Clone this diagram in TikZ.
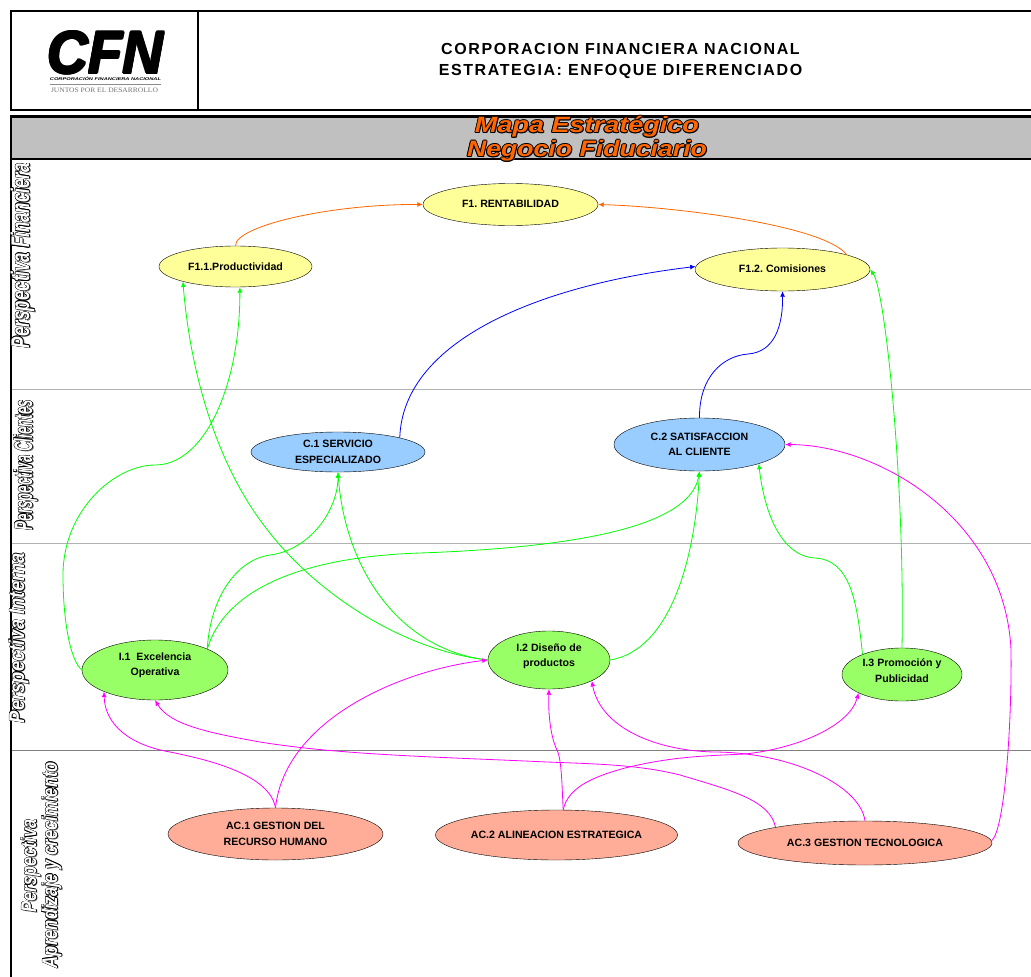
\documentclass[tikz,border=0pt]{standalone}
\usepackage{fontspec}
\usepackage{graphicx}
\setmainfont{Liberation Sans}
\newfontfamily\serifLogo{Liberation Serif}
\newfontfamily\headerFont[LetterSpace=10,BoldFont={Liberation Sans Bold}]{Liberation Sans}
\usetikzlibrary{shapes.geometric, arrows.meta}

\newcommand{\artText}[4]{\leavevmode\rlap{\kern#2pt\raisebox{#3pt}{\color{black!60}#4}}\foreach \dx/\dy in {-.7/0,.7/0,0/-.7,0/.7,-.5/-.5,.5/.5,-.5/.5,.5/-.5}{\rlap{\kern\dx pt\raisebox{\dy pt}{\color{black}#4}}}{\color{#1}#4}}

\definecolor{bandGray}{HTML}{C0C0C0}
\definecolor{artOrange}{HTML}{FF6600}
\definecolor{finYellow}{HTML}{FFFF99}
\definecolor{cliBlue}{HTML}{99CCFF}
\definecolor{intGreen}{HTML}{99FF66}
\definecolor{acSalmon}{HTML}{FFAD99}
\definecolor{linkGreen}{HTML}{00FF00}
\definecolor{linkBlue}{HTML}{0000FF}
\definecolor{linkMagenta}{HTML}{FF00FF}

\tikzset{
    objective/.style={ellipse, draw=black, thin, inner sep=0pt, align=center, font=\fontsize{10.6}{15.5}\selectfont\bfseries\frenchspacing},
    finNode/.style={objective, fill=finYellow},
    cliNode/.style={objective, fill=cliBlue},
    intNode/.style={objective, fill=intGreen},
    acNode/.style={objective, fill=acSalmon},
    link/.style={-{Latex[length=5.5pt,width=5pt]}, line width=0.8pt},
    orangeLink/.style={link, draw=artOrange},
    blueLink/.style={link, draw=linkBlue},
    greenLink/.style={link, draw=linkGreen},
    magentaLink/.style={link, draw=linkMagenta},
    frameLine/.style={black, line width=2.2pt},
    bandLine/.style={black!30, line width=0.9pt},
    headerLabel/.style={inner sep=0pt, anchor=base, font=\fontsize{16}{18}\selectfont\headerFont\bfseries},
    artLabel/.style={inner sep=0pt, anchor=center, font=\fontsize{20}{24}\selectfont\bfseries\itshape},
    sideLabel/.style={artLabel, rotate=90, font=\fontsize{34}{40}\selectfont\bfseries\itshape}
}

\begin{document}
\begin{tikzpicture}[x=1pt, y=-1pt]
\useasboundingbox (0,0) rectangle (1031,977);

% header
\fill[bandGray] (11,117) rectangle (1031,159);
\draw[frameLine] (1031,11) -- (11,11) -- (11,110) -- (1031,110);
\draw[frameLine] (198,11) -- (198,110);
\draw[frameLine] (1031,116.5) -- (11,116.5) -- (11,977);
\draw[frameLine] (11,159) -- (1031,159);
\node[headerLabel] (headerOne) at (620.5,54.5) {CORPORACION FINANCIERA NACIONAL};
\node[headerLabel] (headerTwo) at (620.5,75.5) {ESTRATEGIA: ENFOQUE DIFERENCIADO};

% logo
\node[inner sep=0pt, font=\fontsize{40}{44}\selectfont\bfseries\itshape] (logoMark) at (105.5,53) {\resizebox{116pt}{43pt}{\artText{black}{0}{0}{CFN}}};
\node[inner sep=0pt] (logoName) at (105.5,79) {\resizebox{111pt}{3.5pt}{\bfseries\itshape CORPORACI\'ON FINANCIERA NACIONAL}};
\draw[black!45, line width=0.8pt] (50,84) -- (161,84);
\node[inner sep=0pt, text=black!55] (logoMotto) at (104.5,90) {\resizebox{107pt}{4.5pt}{\serifLogo JUNTOS POR EL DESARROLLO}};

% title
\node[artLabel] (titleOne) at (587,127) {\resizebox{224pt}{17pt}{\artText{artOrange}{.9}{-.9}{Mapa Estrat\'egico}}};
\node[artLabel] (titleTwo) at (587,151) {\resizebox{240pt}{17pt}{\artText{artOrange}{.9}{-.9}{Negocio Fiduciario}}};

% perspective bands
\draw[bandLine] (12,389.5) -- (1031,389.5);
\draw[bandLine] (12,543.5) -- (1031,543.5);
\draw[bandLine, black!50] (12,750) -- (1031,750);

\node[sideLabel] (sideFin) at (23,255.5) {\resizebox{185pt}{19pt}{\artText{white}{-1.8}{-1.8}{Perspectiva Financiera}}};
\node[sideLabel] (sideCli) at (26,465) {\resizebox{130pt}{19pt}{\artText{white}{-1.8}{-1.8}{Perspectiva Clientes}}};
\node[sideLabel] (sideInt) at (19,638) {\resizebox{170pt}{16pt}{\artText{white}{-1.8}{-1.8}{Perspectiva Interna}}};
\node[sideLabel] (sideApOne) at (31,866) {\resizebox{93pt}{16pt}{\artText{white}{-1.8}{-1.8}{Perspectiva}}};
\node[sideLabel] (sideApTwo) at (52,865) {\resizebox{206pt}{16pt}{\artText{white}{-1.8}{-1.8}{Aprendizaje y crecimiento}}};

% objectives
\node[finNode, minimum width=175pt, minimum height=42pt] (F1) at (510.5,204.5) {F1. RENTABILIDAD\\[-14pt]};
\node[finNode, minimum width=153pt, minimum height=41pt] (F11) at (235.5,266.5) {F1.1.Productividad};
\node[finNode, minimum width=175pt, minimum height=43pt] (F12) at (782.5,269.5) {F1.2. Comisiones\\[-14pt]};

\node[cliNode, minimum width=174pt, minimum height=40pt] (C1) at (338,452) {C.1 SERVICIO\\ESPECIALIZADO};
\node[cliNode, minimum width=171pt, minimum height=53pt] (C2) at (699.5,444.5) {C.2 SATISFACCION\\AL CLIENTE};

\node[intNode, minimum width=146pt, minimum height=60pt] (I1) at (155,670) {I.1 \ Excelencia\\Operativa\\[-4pt]};
\node[intNode, minimum width=122pt, minimum height=58pt] (I2) at (549,660) {I.2 Dise\~no de\\productos\\[-6pt]};
\node[intNode, minimum width=120pt, minimum height=53pt] (I3) at (902,674.5) {I.3 Promoci\'on y\\Publicidad\\[-8pt]};

\node[acNode, minimum width=215pt, minimum height=52pt] (AC1) at (275.5,834) {AC.1 GESTION DEL\\RECURSO HUMANO};
\node[acNode, minimum width=241pt, minimum height=50pt] (AC2) at (556.5,835) {AC.2 ALINEACION ESTRATEGICA};
\node[acNode, minimum width=254pt, minimum height=44pt] (AC3) at (865,843) {AC.3 GESTION TECNOLOGICA};

% financial links
\draw[orangeLink] (F11.north) .. controls (235,226) and (330,204) .. (F1.west);
\draw[orangeLink] (F12.13.5) .. controls (825,226) and (680,207) .. (F1.east);

% client links
\draw[blueLink] (C1.13) .. controls (403,340) and (540,285) .. (F12.178);
\draw[blueLink] (C2.north) .. controls (699,378) and (722,356) .. (748,354) .. controls (775,352) and (783,325) .. (F12.south);

% internal links
\draw[greenLink] (I1.west) .. controls (70,660) and (63,620) .. (63,575) .. controls (63,510) and (115,465) .. (155,465) .. controls (205,465) and (240,385) .. (F11.-78);
\draw[greenLink] (I2.west) .. controls (400,650) and (310,590) .. (260,520) .. controls (215,458) and (190,370) .. (F11.-164);
\draw[greenLink] (I1.22) .. controls (210,600) and (235,560) .. (270,555) .. controls (310,550) and (338,510) .. (C1.south);
\draw[greenLink] (I1.22) .. controls (225,590) and (300,557) .. (420,553) .. controls (560,548) and (690,530) .. (C2.south);
\draw[greenLink] (I2.west) .. controls (400,650) and (345,570) .. (C1.south);
\draw[greenLink] (I2.east) .. controls (670,650) and (695,560) .. (C2.south);
\draw[greenLink] (I3.153) .. controls (857,600) and (850,560) .. (815,558) .. controls (780,556) and (764,510) .. (C2.-18);
\draw[greenLink] (I3.north) .. controls (905,480) and (885,290) .. (F12.east);

% learning links
\draw[magentaLink] (AC1.north) .. controls (270,775) and (210,760) .. (170,752) .. controls (130,745) and (105,725) .. (I1.-157);
\draw[magentaLink] (AC1.north) .. controls (285,720) and (400,670) .. (I2.west);
\draw[magentaLink] (AC2.75) .. controls (562,790) and (562,760) .. (557,750) .. controls (551,738) and (548,715) .. (I2.south);
\draw[magentaLink] (AC2.75) .. controls (568,785) and (600,775) .. (625,768) .. controls (670,757) and (700,756) .. (745,754) .. controls (800,748) and (850,725) .. (I3.-157);
\draw[magentaLink] (AC3.170) .. controls (770,800) and (730,790) .. (680,775) .. controls (640,765) and (600,764) .. (547,762) .. controls (440,757) and (340,755) .. (260,742) .. controls (210,733) and (170,725) .. (I1.south);
\draw[magentaLink] (AC3.north) .. controls (860,785) and (790,752) .. (713,752) .. controls (650,750) and (600,725) .. (I2.-26);
\draw[magentaLink] (AC3.1.8) .. controls (1005,830) and (1012,720) .. (1011,650) .. controls (1005,520) and (880,445) .. (C2.east);

\end{tikzpicture}
\end{document}
